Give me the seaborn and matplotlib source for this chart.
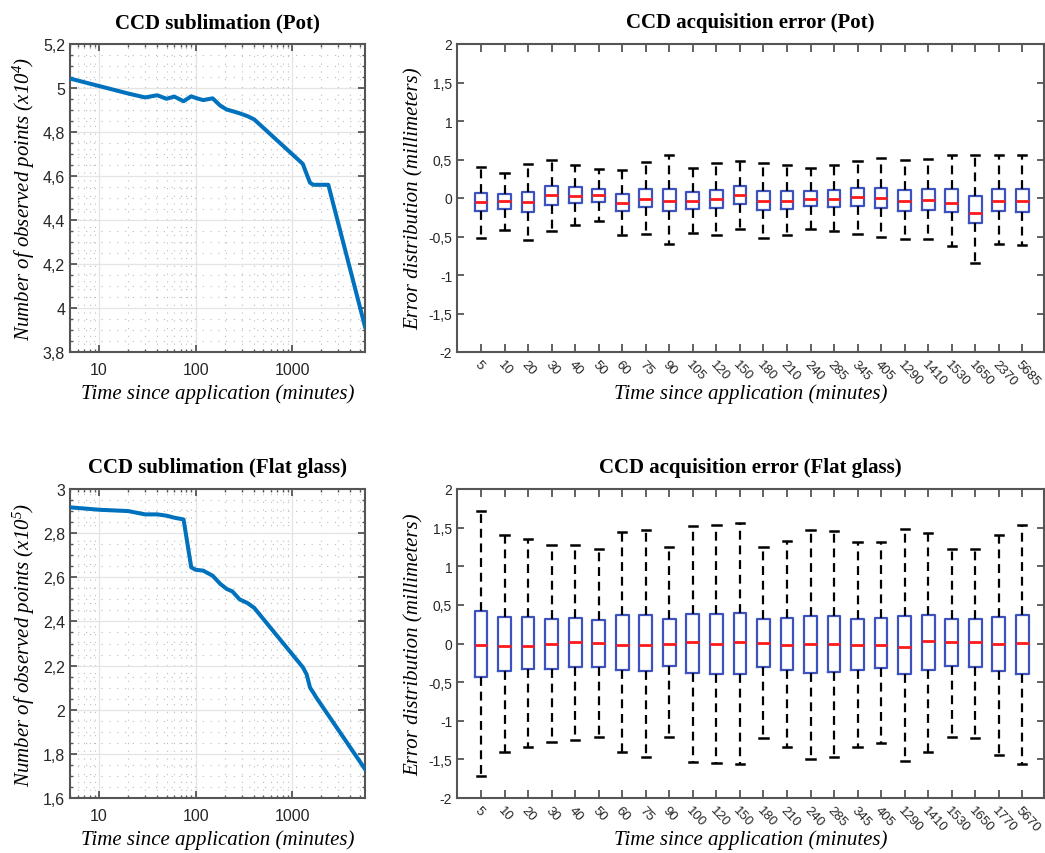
import numpy as np
import pandas as pd
import matplotlib
matplotlib.use("Agg")
import matplotlib.pyplot as plt
import seaborn as sns
from matplotlib.ticker import FuncFormatter, MultipleLocator, LogLocator, NullFormatter, FixedLocator

# ---------------- data ----------------
pot_times = [5, 10, 20, 30, 40, 50, 60, 75, 90, 105, 120, 150, 180, 210, 240, 285,
             345, 405, 1290, 1410, 1530, 1650, 2370, 5685]
pot_points = [5.043, 5.009, 4.975, 4.957, 4.967, 4.951, 4.961, 4.940, 4.962, 4.952,
              4.945, 4.953, 4.920, 4.902, 4.895, 4.885, 4.872, 4.857, 4.655, 4.610,
              4.570, 4.560, 4.560, 3.915]

glass_times = [5, 10, 20, 30, 40, 50, 60, 75, 90, 100, 120, 150, 180, 210, 240, 285,
               345, 405, 1290, 1410, 1530, 1650, 1770, 5670]
glass_points = [2.917, 2.906, 2.900, 2.885, 2.885, 2.879, 2.870, 2.862, 2.645, 2.634,
                2.630, 2.607, 2.570, 2.547, 2.536, 2.500, 2.483, 2.461, 2.192, 2.160,
                2.100, 2.078, 2.056, 1.731]

pot_labels = ["5", "10", "20", "30", "40", "50", "60", "75", "90", "105", "120", "150",
              "180", "210", "240", "285", "345", "405", "1290", "1410", "1530", "1650",
              "2370", "5685"]
pot_whishi = [0.408, 0.33, 0.447, 0.50, 0.434, 0.374, 0.36, 0.468, 0.554, 0.395, 0.46, 0.48,
              0.46, 0.43, 0.395, 0.43, 0.48, 0.515, 0.49, 0.51, 0.558, 0.558, 0.554, 0.558]
pot_q3 = [0.06, 0.05, 0.073, 0.159, 0.137, 0.116, 0.047, 0.116, 0.116, 0.073, 0.107, 0.15,
          0.094, 0.086, 0.094, 0.099, 0.129, 0.129, 0.099, 0.116, 0.116, 0.03, 0.116, 0.116]
pot_med = [-0.047, -0.043, -0.047, 0.039, 0.03, 0.034, -0.064, -0.013, -0.034, -0.034,
           -0.013, 0.043, -0.034, -0.034, -0.013, -0.013, 0.017, 0.0, -0.043, -0.021,
           -0.06, -0.193, -0.039, -0.039]
pot_q1 = [-0.168, -0.142, -0.176, -0.086, -0.064, -0.047, -0.163, -0.12, -0.168, -0.142,
          -0.129, -0.077, -0.155, -0.142, -0.107, -0.12, -0.107, -0.133, -0.163, -0.15,
          -0.185, -0.322, -0.163, -0.176]
pot_whislo = [-0.52, -0.41, -0.55, -0.434, -0.357, -0.296, -0.477, -0.464, -0.60, -0.455,
              -0.477, -0.40, -0.52, -0.477, -0.40, -0.434, -0.464, -0.507, -0.537, -0.528,
              -0.623, -0.85, -0.593, -0.614]

glass_labels = ["5", "10", "20", "30", "40", "50", "60", "75", "90", "100", "120", "150",
                "180", "210", "240", "285", "345", "405", "1290", "1410", "1530", "1650",
                "1770", "5670"]
glass_whishi = [1.713, 1.40, 1.347, 1.274, 1.274, 1.218, 1.438, 1.468, 1.248, 1.52, 1.528, 1.563,
                1.248, 1.326, 1.464, 1.45, 1.317, 1.313, 1.476, 1.433, 1.227, 1.227, 1.408, 1.532]
glass_q3 = [0.422, 0.349, 0.344, 0.314, 0.327, 0.306, 0.37, 0.37, 0.319, 0.387, 0.387, 0.392,
            0.314, 0.327, 0.362, 0.357, 0.319, 0.336, 0.357, 0.366, 0.314, 0.314, 0.349, 0.37]
glass_med = [-0.017, -0.03, -0.03, -0.009, 0.022, 0.009, -0.017, -0.017, 0.0, 0.013, -0.009,
             0.022, 0.004, -0.022, 0.0, -0.004, -0.017, -0.017, -0.043, 0.03, 0.013, 0.017,
             -0.009, 0.009]
glass_q1 = [-0.43, -0.353, -0.331, -0.331, -0.31, -0.31, -0.344, -0.362, -0.297, -0.383, -0.392,
            -0.392, -0.31, -0.344, -0.383, -0.375, -0.344, -0.323, -0.392, -0.344, -0.297,
            -0.301, -0.362, -0.392]
glass_whislo = [-1.709, -1.40, -1.334, -1.279, -1.248, -1.214, -1.408, -1.464, -1.214, -1.528,
                -1.545, -1.558, -1.227, -1.334, -1.494, -1.464, -1.334, -1.291, -1.515, -1.408,
                -1.205, -1.218, -1.438, -1.563]

# ---------------- style ----------------
plt.rcParams["mathtext.fontset"] = "custom"
plt.rcParams["mathtext.rm"] = "Liberation Serif:italic"
plt.rcParams["mathtext.it"] = "Liberation Serif:italic"

SPINE = "#555555"
TICKC = "#262626"
LINEC = "#0072BD"
BOXC = "#3c52be"
TITLE_FONT = dict(family="Liberation Serif", weight="bold", size=15)
LABEL_FONT = dict(family="Liberation Serif", style="italic", size=15)
TICK_FONT = "Liberation Sans"

W, H = 1045, 854
fig = plt.figure(figsize=(W / 100, H / 100), dpi=100)


def rect(l, t, r, b):
    return [l / W, 1 - b / H, (r - l) / W, (b - t) / H]


def comma(v, p):
    s = "%g" % round(v, 6)
    return s.replace(".", ",")


def style_axes(ax, size):
    for s in ax.spines.values():
        s.set_color(SPINE)
        s.set_linewidth(1.5)
        s.set_visible(True)
    ax.tick_params(direction="in", which="both", top=True, right=True,
                   color=SPINE, labelcolor=TICKC, labelsize=size)
    ax.tick_params(which="major", length=5, width=1.3)
    ax.tick_params(which="minor", length=2.5, width=1.0)
    for lab in ax.get_xticklabels() + ax.get_yticklabels():
        lab.set_fontfamily(TICK_FONT)


def line_panel(ax, times, points, ylo, yhi, title, ylabel):
    sns.lineplot(x=times, y=points, ax=ax, color=LINEC, linewidth=2.9, zorder=3)
    ax.set_xscale("log")
    ax.set_xlim(times[0], times[-1])
    ax.set_ylim(ylo, yhi)
    ax.yaxis.set_major_locator(MultipleLocator(0.2))
    ax.yaxis.set_minor_locator(MultipleLocator(0.05))
    ax.yaxis.set_major_formatter(FuncFormatter(comma))
    ax.xaxis.set_major_locator(FixedLocator([10, 100, 1000]))
    ax.xaxis.set_major_formatter(FuncFormatter(lambda v, p: "%d" % v))
    ax.xaxis.set_minor_locator(LogLocator(base=10, subs=np.arange(2, 10)))
    ax.xaxis.set_minor_formatter(NullFormatter())
    ax.grid(True, which="major", color="#e4e4e4", linewidth=0.9, linestyle="-", zorder=0)
    ax.grid(True, which="minor", color="#bdbdbd", linewidth=0.8, linestyle=(0, (1, 6)), zorder=0)
    ax.set_axisbelow(True)
    style_axes(ax, 11.5)
    ax.tick_params(axis="x", which="major", pad=7)
    ax.set_title(title, pad=12, **TITLE_FONT)
    ax.set_xlabel("Time since application (minutes)", va="top", **LABEL_FONT)
    ax.xaxis.set_label_coords(0.5, -0.100)
    ax.set_ylabel(ylabel, labelpad=4, **LABEL_FONT)


def box_panel(ax, labels, lo, q1, med, q3, hi, title):
    rows = []
    for i, lab in enumerate(labels):
        for v in (lo[i], q1[i], med[i], q3[i], hi[i]):
            rows.append({"time": lab, "err": v})
    df = pd.DataFrame(rows)
    sns.boxplot(data=df, x="time", y="err", order=labels, ax=ax, whis=(0, 100),
                width=0.54, fill=False, color=BOXC, linewidth=1.6,
                boxprops=dict(color=BOXC, linewidth=1.6),
                medianprops=dict(color="#ff1a1a", linewidth=2.0),
                whiskerprops=dict(color="black", linewidth=1.6, linestyle=(0, (4, 2.6))),
                capprops=dict(color="black", linewidth=1.8),
                showfliers=False)
    # widen the whisker caps a little (MATLAB style)
    for ln in ax.lines:
        xd = np.asarray(ln.get_xdata(), dtype=float)
        yd = np.asarray(ln.get_ydata(), dtype=float)
        if len(xd) == 2 and yd[0] == yd[1] and matplotlib.colors.to_hex(ln.get_color()) == "#000000":
            c = xd.mean()
            ln.set_xdata(c + (xd - c) * 1.3)
    ax.set_xlim(-1.02, len(labels) - 1 + 0.92)
    ax.set_ylim(-2, 2)
    ax.yaxis.set_major_locator(MultipleLocator(0.5))
    ax.yaxis.set_major_formatter(FuncFormatter(comma))
    ax.set_xticks(range(len(labels)))
    ax.set_xticklabels(labels, rotation=-47, ha="left", va="top", rotation_mode="anchor")
    ax.grid(False)
    style_axes(ax, 10)
    ax.tick_params(axis="x", which="major", length=6, pad=4, labelsize=9.5)
    ax.set_title(title, pad=12, **TITLE_FONT)
    ax.set_xlabel("Time since application (minutes)", va="top", **LABEL_FONT)
    ax.xaxis.set_label_coords(0.5, -0.101)
    ax.set_ylabel("Error distribution (millimeters)", labelpad=3, **LABEL_FONT)


ax1 = fig.add_axes(rect(70, 45, 365, 353))
line_panel(ax1, pot_times, pot_points, 3.8, 5.2, "CCD sublimation (Pot)",
           r"Number of observed points (x10$^{4}$)")

ax2 = fig.add_axes(rect(457, 45, 1044, 353))
box_panel(ax2, pot_labels, pot_whislo, pot_q1, pot_med, pot_q3, pot_whishi,
          "CCD acquisition error (Pot)")

ax3 = fig.add_axes(rect(70, 490, 365, 799))
line_panel(ax3, glass_times, glass_points, 1.6, 3.0, "CCD sublimation (Flat glass)",
           r"Number of observed points (x10$^{5}$)")

ax4 = fig.add_axes(rect(457, 490, 1044, 799))
box_panel(ax4, glass_labels, glass_whislo, glass_q1, glass_med, glass_q3, glass_whishi,
          "CCD acquisition error (Flat glass)")

fig.savefig("out.png", dpi=100, facecolor="white")
